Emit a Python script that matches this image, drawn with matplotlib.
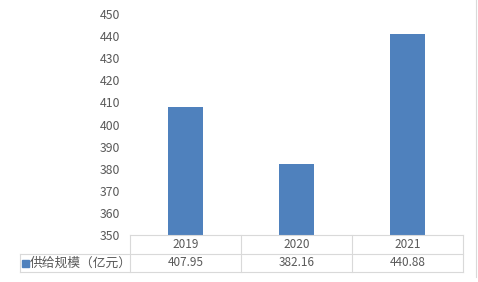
import matplotlib.pyplot as plt
from matplotlib.lines import Line2D

plt.rcParams['font.family'] = ['Noto Sans CJK SC', 'DejaVu Sans']

years = ['2019', '2020', '2021']
supply = [407.95, 382.16, 440.88]
series_name = '供给规模（亿元）'
yticks = list(range(350, 451, 10))

W, H = 478, 282
fig = plt.figure(figsize=(W / 100, H / 100), dpi=100)

# plot area in pixels
left, right, top, bottom = 130, 463, 14, 235
ax = fig.add_axes([left / W, 1 - bottom / H, (right - left) / W, (bottom - top) / H])

bar_color = '#4F81BD'
grid_color = '#D9D9D9'
text_color = '#595959'

x = range(len(years))
ax.bar(x, supply, width=0.31, color=bar_color, zorder=3)
ax.set_xlim(-0.5, len(years) - 0.5)
ax.set_ylim(350, 450)
ax.set_yticks(yticks)
ax.set_yticklabels([str(v) for v in yticks], fontsize=8.8, color=text_color)
ax.tick_params(axis='y', length=0, pad=7)
ax.set_xticks([])
for s in ax.spines.values():
    s.set_visible(False)


def px(xp, yp):
    return xp / W, 1 - yp / H


def hline(x0, x1, y):
    a, b = px(x0, y)
    c, d = px(x1, y)
    fig.add_artist(Line2D([a, c], [b, d], color=grid_color, lw=0.8))


def vline(xp, y0, y1):
    a, b = px(xp, y0)
    c, d = px(xp, y1)
    fig.add_artist(Line2D([a, c], [b, d], color=grid_color, lw=0.8))


# data table below the axis
row1_top, row2_top, row_bot = 235, 254, 272
label_left = 20
cell_w = (right - left) / len(years)

hline(left, right, row1_top)
hline(label_left, right, row2_top)
hline(label_left, right, row_bot)
for i in range(len(years) + 1):
    vline(left + i * cell_w, row1_top, row_bot)
vline(label_left, row2_top, row_bot)

for i, (yr, v) in enumerate(zip(years, supply)):
    cx = left + (i + 0.5) * cell_w
    fig.text(*px(cx, (row1_top + row2_top) / 2), yr, ha='center', va='center',
             fontsize=8.5, color=text_color)
    fig.text(*px(cx, (row2_top + row_bot) / 2), f'{v:.2f}', ha='center', va='center',
             fontsize=8.5, color=text_color)

# legend key inside the label cell
mid2 = (row2_top + row_bot) / 2
mx, my = px(22, mid2 + 3.5)
fig.add_artist(plt.Rectangle((mx, my), 7 / W, 7 / H, color=bar_color,
                             transform=fig.transFigure))
fig.text(*px(30, mid2), series_name, ha='left', va='center',
         fontsize=9.2, color=text_color)

# outer chart border on the right
vline(476, 0, 277)

fig.savefig('out.png', dpi=100)
